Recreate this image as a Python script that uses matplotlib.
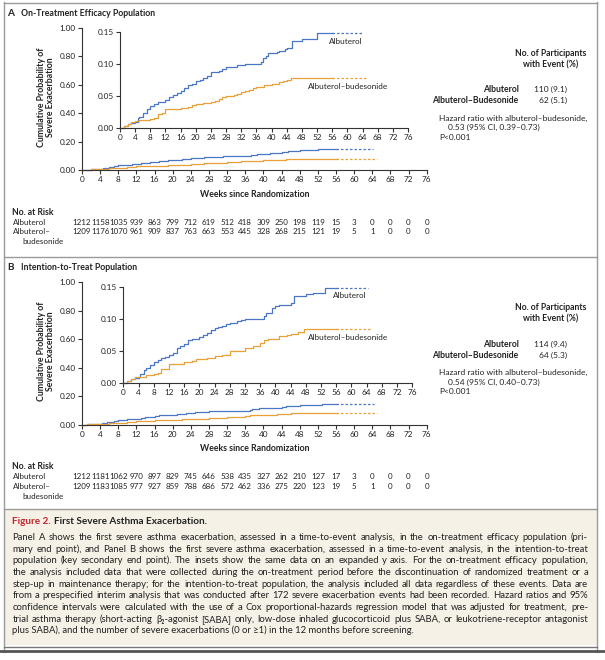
import matplotlib
matplotlib.use("Agg")
import matplotlib.pyplot as plt
from matplotlib.lines import Line2D
from matplotlib.patches import Rectangle
import numpy as np

# ---------------- data ----------------
weeks_ticks = list(range(0, 80, 4))
main_yticks = [0.0, 0.2, 0.4, 0.6, 0.8, 1.0]
inset_yticks = [0.0, 0.05, 0.10, 0.15]

# Panel A (on-treatment efficacy population)
a_alb_t = [0, 1, 2, 3, 4, 4.7, 5, 6, 7, 8, 9, 10, 11, 12, 13, 14, 15, 16, 17, 18, 19, 20, 21, 22, 23, 24,
           25, 26, 27, 28, 30, 31, 32, 33, 37.3, 37.8, 38.5, 39, 41.5, 42, 43.5, 44, 45.5, 48, 52, 64.2]
a_alb_p = [0, 0.003, 0.006, 0.008, 0.010, 0.015, 0.018, 0.024, 0.030, 0.035, 0.037, 0.040, 0.041, 0.044,
           0.048, 0.052, 0.055, 0.058, 0.063, 0.0675, 0.069, 0.074, 0.075, 0.078, 0.082, 0.087, 0.088, 0.0895,
           0.093, 0.095, 0.096, 0.098, 0.099, 0.100, 0.104, 0.109, 0.113, 0.117, 0.119, 0.121, 0.124, 0.126,
           0.136, 0.140, 0.149, 0.149]
a_bud_t = [0, 1, 2, 3, 4, 5, 6, 8, 9, 10, 11, 12, 14, 16, 18, 19, 20, 22, 24, 25, 26, 27, 28, 30, 31, 32,
           33, 34, 35, 36, 38, 40, 42, 43, 44, 45, 46, 65]
a_bud_p = [0, 0.003, 0.006, 0.009, 0.011, 0.0126, 0.013, 0.0136, 0.015, 0.0215, 0.023, 0.029, 0.030, 0.031,
           0.033, 0.036, 0.038, 0.039, 0.041, 0.043, 0.0455, 0.048, 0.050, 0.052, 0.054, 0.057, 0.058, 0.060,
           0.062, 0.065, 0.0675, 0.0696, 0.0717, 0.073, 0.0754, 0.078, 0.079, 0.079]

# Panel B (intention-to-treat population)
b_alb_t = [0, 1, 2, 3, 4, 4.5, 5.5, 6, 7, 8, 9, 10, 11, 12, 13, 14, 15, 16, 17, 18, 19, 20, 21, 22, 23, 24,
           25, 26, 27, 28, 30, 31, 32, 37, 37.5, 39, 40, 41, 44, 45, 48, 50, 53, 64.3]
b_alb_p = [0, 0.003, 0.005, 0.007, 0.009, 0.014, 0.020, 0.023, 0.028, 0.032, 0.035, 0.038, 0.040, 0.0425,
           0.047, 0.054, 0.057, 0.060, 0.067, 0.068, 0.069, 0.0715, 0.075, 0.078, 0.082, 0.0855, 0.087, 0.089,
           0.092, 0.094, 0.096, 0.098, 0.0995, 0.105, 0.109, 0.1166, 0.120, 0.122, 0.125, 0.135, 0.139, 0.141,
           0.149, 0.149]
b_bud_t = [0, 1, 2, 3, 4, 6, 8, 9, 10, 11, 12, 14, 16, 18, 19, 22, 24, 26, 28, 30, 32, 34, 36, 37, 38, 41,
           43, 44, 46, 47.5, 65]
b_bud_p = [0, 0.003, 0.006, 0.008, 0.0093, 0.012, 0.013, 0.0155, 0.0207, 0.022, 0.0285, 0.0295, 0.032,
           0.0337, 0.037, 0.039, 0.0415, 0.044, 0.049, 0.050, 0.054, 0.058, 0.062, 0.067, 0.069, 0.0725, 0.074,
           0.076, 0.080, 0.084, 0.084]

# numbers at risk
a_risk_alb = [1212, 1158, 1035, 939, 863, 799, 712, 619, 512, 418, 309, 250, 198, 119, 15, 3, 0, 0, 0, 0]
a_risk_bud = [1209, 1176, 1070, 961, 909, 837, 763, 663, 553, 445, 328, 268, 215, 121, 19, 5, 1, 0, 0, 0]
b_risk_alb = [1212, 1181, 1062, 970, 897, 829, 745, 646, 538, 435, 327, 262, 210, 127, 17, 3, 0, 0, 0, 0]
b_risk_bud = [1209, 1183, 1085, 977, 927, 859, 788, 686, 572, 462, 336, 275, 220, 123, 19, 5, 1, 0, 0, 0]

a_events = ["110 (9.1)", "62 (5.1)"]
b_events = ["114 (9.4)", "64 (5.3)"]
a_hr = "0.53 (95% CI, 0.39\u20130.73)"
b_hr = "0.54 (95% CI, 0.40\u20130.73)"

caption_lines = [
    "Panel A shows the first severe asthma exacerbation, assessed in a time-to-event analysis, in the on-treatment efficacy population (pri-",
    "mary end point), and Panel B shows the first severe asthma exacerbation, assessed in a time-to-event analysis, in the intention-to-treat",
    "population (key secondary end point). The insets show the same data on an expanded y axis. For the on-treatment efficacy population,",
    "the analysis included data that were collected during the on-treatment period before the discontinuation of randomized treatment or a",
    "step-up in maintenance therapy; for the intention-to-treat population, the analysis included all data regardless of these events. Data are",
    "from a prespecified interim analysis that was conducted after 172 severe exacerbation events had been recorded. Hazard ratios and 95%",
    "confidence intervals were calculated with the use of a Cox proportional-hazards regression model that was adjusted for treatment, pre-",
    "trial asthma therapy (short-acting \u03b2\u2082-agonist [SABA] only, low-dose inhaled glucocorticoid plus SABA, or leukotriene-receptor antagonist",
    "plus SABA), and the number of severe exacerbations (0 or \u22651) in the 12 months before screening.",
]

# ---------------- style ----------------
FAM = ["Lato", "DejaVu Sans"]
plt.rcParams["font.family"] = FAM
BLUE = "#4a76c6"
ORANGE = "#e8a037"
AXC = "#333333"
TXT = "#222222"
FRAME = "#9a9a9a"
W, H = 605, 660

fig = plt.figure(figsize=(W / 100, H / 100), dpi=100)
fig.patch.set_facecolor("white")
renderer = fig.canvas.get_renderer()


def fx(x):
    return x / W


def fy(y):
    return 1 - y / H


def T(x, y, s, size=5.8, ha="left", va="center", **kw):
    kw.setdefault("color", TXT)
    return fig.text(fx(x), fy(y), s, fontsize=size, ha=ha, va=va, **kw)


def hline(y, x0, x1, color=FRAME, lw=1.0):
    fig.add_artist(Line2D([fx(x0), fx(x1)], [fy(y), fy(y)], transform=fig.transFigure, color=color, lw=lw))


def vline(x, y0, y1, color=FRAME, lw=1.0):
    fig.add_artist(Line2D([fx(x), fx(x)], [fy(y0), fy(y1)], transform=fig.transFigure, color=color, lw=lw))


def make_axes(x0, x1, ytop, ybot):
    ax = fig.add_axes([fx(x0), fy(ybot), (x1 - x0) / W, (ybot - ytop) / H])
    ax.set_facecolor("none")
    for s in ("top", "right"):
        ax.spines[s].set_visible(False)
    for s in ("left", "bottom"):
        ax.spines[s].set_color(AXC)
        ax.spines[s].set_linewidth(0.8)
    ax.tick_params(direction="out", length=3.2, width=0.8, color=AXC, labelsize=5.9,
                   labelcolor=TXT, pad=1.2)
    ax.set_xlim(0, 76)
    ax.set_xticks(weeks_ticks)
    ax.set_xticklabels([str(w) for w in weeks_ticks])
    return ax


def draw_curve(ax, t, p, color):
    t = np.asarray(t, float)
    p = np.asarray(p, float)
    cut = 56.0
    idx = np.searchsorted(t, cut)
    t1 = np.append(t[:idx], cut)
    p1 = np.append(p[:idx], p[idx - 1])
    ax.step(t1, p1, where="post", color=color, lw=0.9, clip_on=False)
    t2 = np.concatenate([[cut], t[idx:]])
    p2 = np.concatenate([[p[idx - 1]], p[idx:]])
    ax.step(t2, p2, where="post", color=color, lw=0.9, clip_on=False, dashes=(2.0, 1.6))


def panel(oy, label, title, alb_t, alb_p, bud_t, bud_p, risk_alb, risk_bud, events, hr, inset_x0,
          inset_scale, lab_alb_xy, lab_bud_xy):
    # header
    T(7.5, 13 + oy, label, size=7.2, weight="bold")
    T(21, 13 + oy, title, size=6.3, weight="bold")
    # main axes
    top, bot = 27.7 + oy, 170.3 + oy
    ax = make_axes(82, 426.7, top, bot)
    ax.set_ylim(0, 1.0)
    ax.set_yticks(main_yticks)
    ax.set_yticklabels(["%.2f" % v for v in main_yticks])
    draw_curve(ax, alb_t, alb_p, BLUE)
    draw_curve(ax, bud_t, bud_p, ORANGE)
    T(254.3, 194.3 + oy, "Weeks since Randomization", size=6.3, weight="bold", ha="center")
    T(46.2, 97 + oy, "Cumulative Probability of\nSevere Exacerbation", size=6.3, weight="bold",
      ha="center", rotation=90, multialignment="center", linespacing=1.05)
    # inset
    itop, ibot = 32.3 + oy, 128 + oy
    ix1 = inset_x0 + 76 * inset_scale
    ins = make_axes(inset_x0, ix1, itop, ibot)
    ins.set_ylim(0, 0.15)
    ins.set_yticks(inset_yticks)
    ins.set_yticklabels(["%.2f" % v for v in inset_yticks])
    draw_curve(ins, alb_t, alb_p, BLUE)
    draw_curve(ins, bud_t, bud_p, ORANGE)
    T(lab_alb_xy[0], lab_alb_xy[1] + oy, "Albuterol", size=5.9)
    T(lab_bud_xy[0], lab_bud_xy[1] + oy, "Albuterol\u2013budesonide", size=5.9)
    # legend block
    T(551, 53 + oy, "No. of Participants", size=6.2, weight="bold", ha="center")
    T(551, 64.5 + oy, "with Event (%)", size=6.2, weight="bold", ha="center")
    T(518.5, 89.5 + oy, "Albuterol", size=6.2, weight="bold", ha="right")
    T(518.5, 100.5 + oy, "Albuterol\u2013Budesonide", size=6.2, weight="bold", ha="right")
    T(567, 89.5 + oy, events[0], size=6.0, ha="right")
    T(567, 100.5 + oy, events[1], size=6.0, ha="right")
    T(439, 118 + oy, "Hazard ratio with albuterol\u2013budesonide,", size=6.0)
    T(447.5, 127.5 + oy, hr, size=6.0)
    T(439, 137 + oy, "P<0.001", size=6.0)
    # number at risk
    T(12.5, 212 + oy, "No. at Risk", size=6.2, weight="bold")
    T(12.5, 222 + oy, "Albuterol", size=5.8)
    T(12.5, 232 + oy, "Albuterol\u2013", size=5.8)
    T(22.5, 242 + oy, "budesonide", size=5.8)
    for w, n1, n2 in zip(weeks_ticks, risk_alb, risk_bud):
        x = 82 + w * (426.7 - 82) / 76
        T(x, 222 + oy, str(n1), size=5.8, ha="center")
        T(x, 232 + oy, str(n2), size=5.8, ha="center")


panel(0, "A", "On-Treatment Efficacy Population", a_alb_t, a_alb_p, a_bud_t, a_bud_p,
      a_risk_alb, a_risk_bud, a_events, a_hr, 120, 3.79, (328.5, 41.7), (308, 86.3))
panel(254.6, "B", "Intention-to-Treat Population", b_alb_t, b_alb_p, b_bud_t, b_bud_p,
      b_risk_alb, b_risk_bud, b_events, b_hr, 123.3, 3.80, (332.5, 40.7), (308, 83.4))

# ---------------- frame ----------------
fig.add_artist(Rectangle((fx(3.5), fy(645)), (597 - 3.5) / W, (645 - 510) / H, transform=fig.transFigure,
                         facecolor="#f5f1e7", edgecolor="none", zorder=0))
vline(3.5, 2, 652)
vline(597, 2, 652)
hline(2.5, 3.5, 597)
hline(256.7, 3.5, 597)
hline(508.5, 3.5, 597)
hline(646.5, 3.5, 597, color="#777777", lw=1.0)
hline(651, 0, 605, color="#555555", lw=2.0)

# ---------------- caption ----------------
def text_width(s, fs, **kw):
    t = fig.text(0, 0, s, fontsize=fs, **kw)
    w = t.get_window_extent(renderer).width
    t.remove()
    return w


CX0, CX1 = 12.5, 588
ref_fs = 6.0
nat = [text_width(l, ref_fs) for l in caption_lines]
cap_fs = ref_fs * (CX1 - CX0) / max(nat)
base_off = 0.36 * cap_fs * 100 / 72  # center-to-baseline offset in px

T(CX0, 521 + base_off, "Figure 2.", size=cap_fs + 0.3, color="#c4262e", weight="bold", va="baseline")
w1 = text_width("Figure 2. ", cap_fs + 0.3, weight="bold")
T(CX0 + w1, 521 + base_off, "First Severe Asthma Exacerbation.", size=cap_fs + 0.3, weight="bold",
  va="baseline")

for i, line in enumerate(caption_lines):
    y = 536.7 + i * 11.67 + base_off
    words = line.split(" ")
    if i == len(caption_lines) - 1:
        T(CX0, y, line, size=cap_fs, va="baseline")
        continue
    ws = [text_width(wd, cap_fs) for wd in words]
    gap = (CX1 - CX0 - sum(ws)) / (len(words) - 1)
    x = CX0
    for wd, wdw in zip(words, ws):
        T(x, y, wd, size=cap_fs, va="baseline")
        x += wdw + gap

fig.savefig("out.png", dpi=100)
